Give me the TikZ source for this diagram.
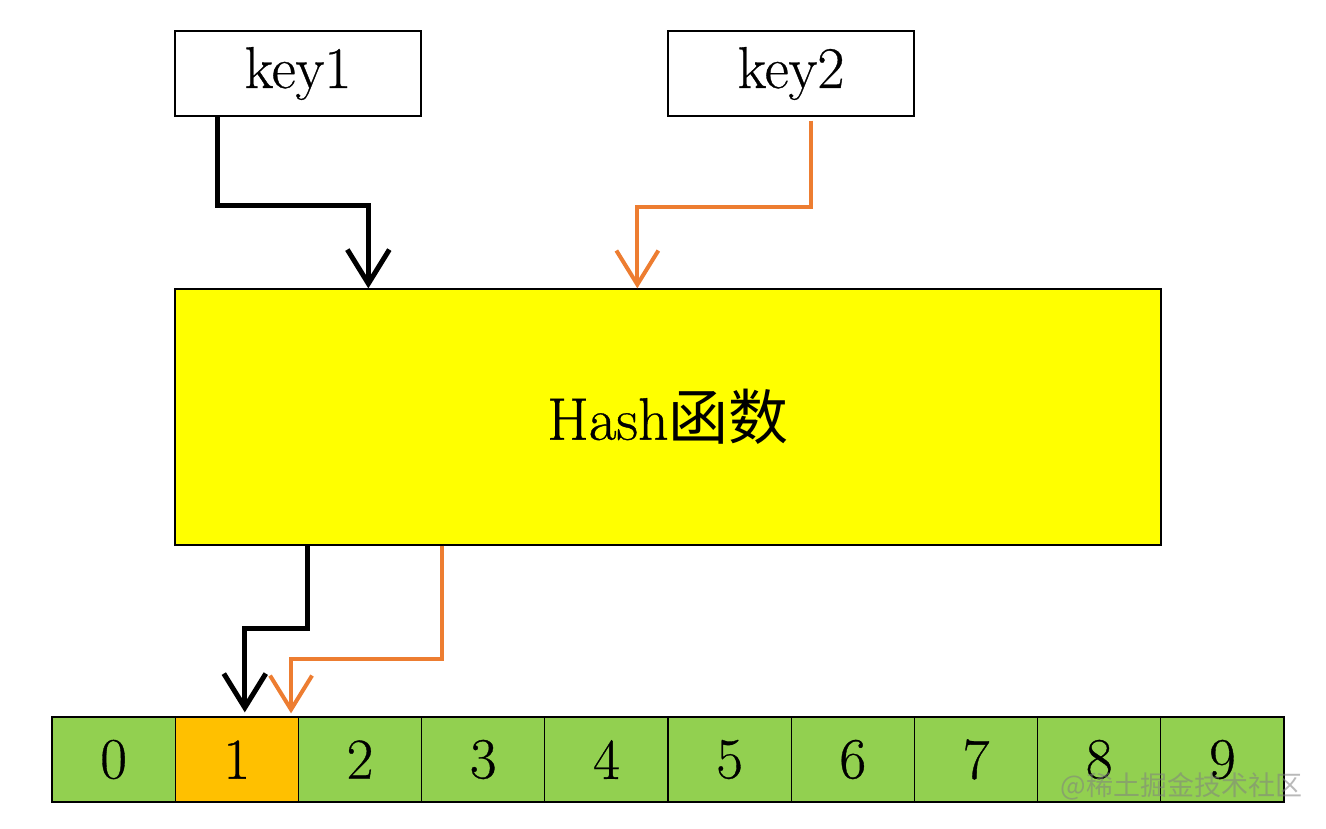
\documentclass[tikz,border=0pt]{standalone}
\usepackage{fontspec}
\newfontfamily\cjk{Noto Sans CJK SC}
\newfontfamily\lmheavy{Latin Modern Roman}[FakeBold=0.6]
\usetikzlibrary{arrows.meta}
\definecolor{hashyellow}{HTML}{FFFF00}
\definecolor{cellgreen}{HTML}{92D050}
\definecolor{cellorange}{HTML}{FFC000}
\definecolor{lineorange}{HTML}{ED7D31}
\tikzset{
  box/.style={draw=black, line width=1.3pt, inner sep=0pt, minimum width=246pt, minimum height=85pt, fill=white, font=\lmheavy\fontsize{59}{64}\selectfont},
  cell/.style={draw=black, line width=1.3pt, inner sep=0pt, minimum width=123.2pt, minimum height=85pt, fill=cellgreen, font=\lmheavy\fontsize{58}{64}\selectfont},
  blk/.style={draw=black, line width=5pt, -{Straight Barb[length=34pt,width=42pt]}},
  org/.style={draw=lineorange, line width=4pt, -{Straight Barb[length=34pt,width=42pt]}},
}
\begin{document}
\begin{tikzpicture}[x=1pt,y=-1pt]
\useasboundingbox (0,0) rectangle (1326,828);
\node[box] (key1) at (298,73.5) {key1};
\node[box] (key2) at (791,73.5) {key2};
\node[draw=black, line width=1.3pt, fill=hashyellow, inner sep=0pt, minimum width=986pt, minimum height=256pt, font=\lmheavy\fontsize{60}{64}\selectfont] (hash) at (668,417) {Hash{\cjk 函数}};
\foreach \i in {0,...,9} {
  \node[cell] (c\i) at ({52+123.2*(\i+0.5)},759.5) {\i};
}
\node[cell, fill=cellorange] (c1) at ({52+123.2*1.5},759.5) {1};
% connectors
\draw[blk] ([xshift=43pt]key1.south west) -- ++(0,89) -| ([xshift=194pt]hash.north west);
\draw[org] ([xshift=144pt,yshift=-4pt]key2.south west) -- ++(0,86) -| ([xshift=463pt]hash.north west);
\draw[blk, shorten >=4pt] ([xshift=133pt]hash.south west) -- ++(0,83) -| ([xshift=8pt]c1.north);
\draw[org, shorten >=3pt] ([xshift=268pt]hash.south west) -- ++(0,113) -| ([xshift=-8pt]c1.north east);
\node[text=gray, opacity=0.55, font=\cjk\fontsize{27}{30}\selectfont, anchor=east] (wm) at (1306,786) {@稀土掘金技术社区};
\end{tikzpicture}
\end{document}
